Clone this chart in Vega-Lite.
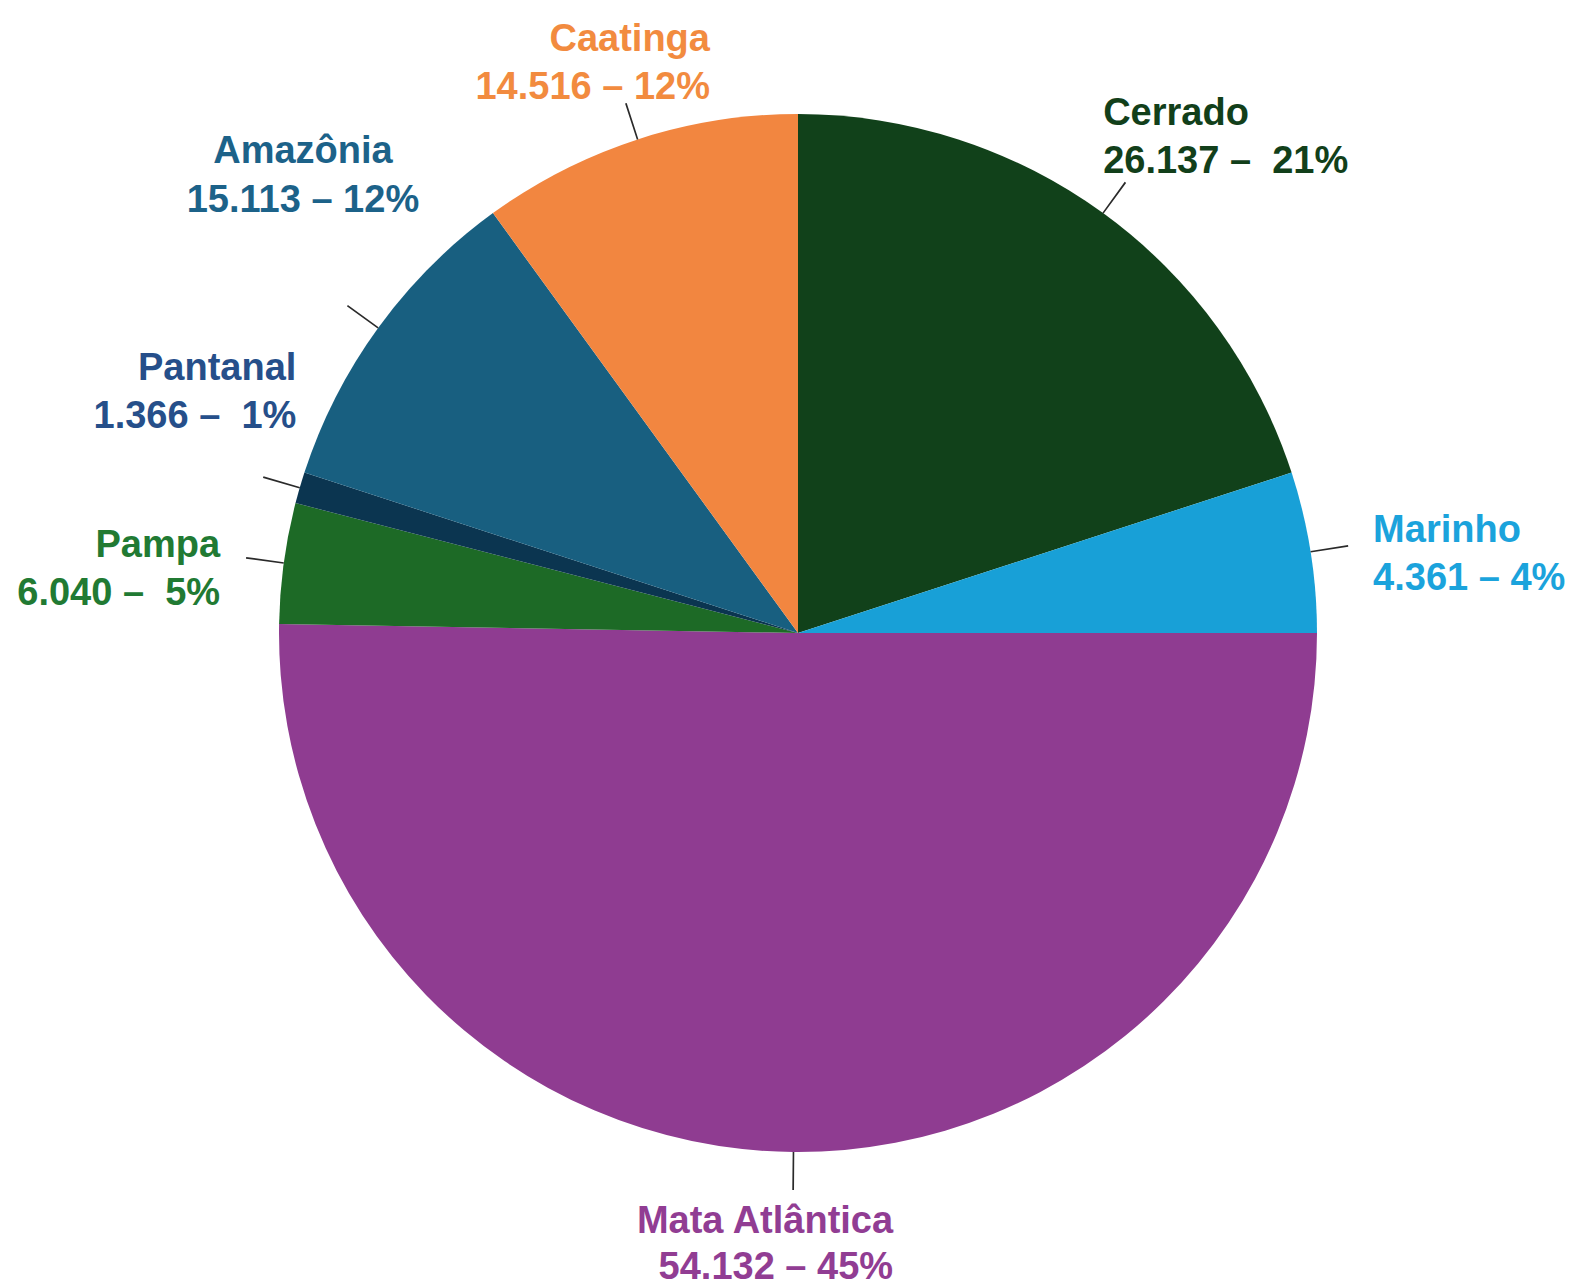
{
  "$schema": "https://vega.github.io/schema/vega-lite/v6.json",
  "width": 1546,
  "height": 1266,
  "autosize": "none",
  "padding": {"left": 25, "top": 0, "right": 0, "bottom": 20},
  "background": "white",
  "config": {"view": {"stroke": null}},
  "data": {
    "values": [
      {"ordem": 1, "bioma": "Cerrado", "valor": 26137, "pct": 21, "fatia": 72, "linhas": ["Cerrado", "\u200026.137 –\u00a0 21%"]},
      {"ordem": 2, "bioma": "Marinho", "valor": 4361, "pct": 4, "fatia": 18, "linhas": ["Marinho", "4.361 – 4%"]},
      {"ordem": 3, "bioma": "Mata Atlântica", "valor": 54132, "pct": 45, "fatia": 181, "linhas": ["Mata Atlântica", "54.132 – 45%"]},
      {"ordem": 4, "bioma": "Pampa", "valor": 6040, "pct": 5, "fatia": 13.5, "linhas": ["Pampa", "6.040 –\u00a0 5%"]},
      {"ordem": 5, "bioma": "Pantanal", "valor": 1366, "pct": 1, "fatia": 3.5, "linhas": ["Pantanal", "1.366 –\u00a0 1%"]},
      {"ordem": 6, "bioma": "Amazônia", "valor": 15113, "pct": 12, "fatia": 36, "linhas": ["Amazônia", "15.113 – 12%"]},
      {"ordem": 7, "bioma": "Caatinga", "valor": 14516, "pct": 12, "fatia": 36, "linhas": ["Caatinga", "14.516 – 12%"]}
    ]
  },
  "transform": [
    {"stack": "fatia", "groupby": [], "sort": [{"field": "ordem", "order": "ascending"}], "as": ["t0", "t1"]},
    {"calculate": "(datum.t0 + datum.t1) / 2", "as": "meio"},
    {"calculate": "datum.meio - 0.09", "as": "l0"},
    {"calculate": "datum.meio + 0.09", "as": "l1"}
  ],
  "layer": [
    {
      "mark": {"type": "arc", "outerRadius": 519, "innerRadius": 0},
      "encoding": {
        "theta": {"field": "t0", "type": "quantitative", "scale": {"domain": [0, 360], "range": [0, 6.283185307179586]}},
        "theta2": {"field": "t1"},
        "color": {
          "field": "bioma",
          "type": "nominal",
          "scale": {
            "domain": ["Cerrado", "Marinho", "Mata Atlântica", "Pampa", "Pantanal", "Amazônia", "Caatinga"],
            "range": ["#11411a", "#18a0d7", "#8f3c91", "#1d6a26", "#0b3550", "#185f80", "#f28640"]
          },
          "legend": null
        }
      }
    },
    {
      "mark": {"type": "arc", "innerRadius": 519, "outerRadius": 557, "color": "#2a2a2a"},
      "encoding": {
        "theta": {"field": "l0", "type": "quantitative", "scale": {"domain": [0, 360], "range": [0, 6.283185307179586]}},
        "theta2": {"field": "l1"}
      }
    },
    {
      "transform": [{"filter": "datum.bioma === 'Cerrado'"}],
      "mark": {"type": "text", "radius": 560, "align": "left", "baseline": "alphabetic", "dx": -24, "dy": -55, "font": "Liberation Sans", "fontWeight": "bold", "fontSize": 38, "lineHeight": 48, "color": "#123f1a"},
      "encoding": {"theta": {"field": "meio", "type": "quantitative", "scale": {"domain": [0, 360], "range": [0, 6.283185307179586]}}, "text": {"field": "linhas"}}
    },
    {
      "transform": [{"filter": "datum.bioma === 'Marinho'"}],
      "mark": {"type": "text", "radius": 560, "align": "left", "baseline": "alphabetic", "dx": 22, "dy": -3, "font": "Liberation Sans", "fontWeight": "bold", "fontSize": 38, "lineHeight": 48, "color": "#1ba3dc"},
      "encoding": {"theta": {"field": "meio", "type": "quantitative", "scale": {"domain": [0, 360], "range": [0, 6.283185307179586]}}, "text": {"field": "linhas"}}
    },
    {
      "transform": [{"filter": "datum.bioma === 'Mata Atlântica'"}],
      "mark": {"type": "text", "radius": 560, "align": "right", "baseline": "alphabetic", "dx": 100, "dy": 40, "font": "Liberation Sans", "fontWeight": "bold", "fontSize": 38, "lineHeight": 46, "color": "#913d93"},
      "encoding": {"theta": {"field": "meio", "type": "quantitative", "scale": {"domain": [0, 360], "range": [0, 6.283185307179586]}}, "text": {"field": "linhas"}}
    },
    {
      "transform": [{"filter": "datum.bioma === 'Pampa'"}],
      "mark": {"type": "text", "radius": 560, "align": "right", "baseline": "alphabetic", "dx": -23, "dy": 0, "font": "Liberation Sans", "fontWeight": "bold", "fontSize": 38, "lineHeight": 48, "color": "#217a33"},
      "encoding": {"theta": {"field": "meio", "type": "quantitative", "scale": {"domain": [0, 360], "range": [0, 6.283185307179586]}}, "text": {"field": "linhas"}}
    },
    {
      "transform": [{"filter": "datum.bioma === 'Pantanal'"}],
      "mark": {"type": "text", "radius": 560, "align": "right", "baseline": "alphabetic", "dx": 36, "dy": -96, "font": "Liberation Sans", "fontWeight": "bold", "fontSize": 38, "lineHeight": 48, "color": "#264f8a"},
      "encoding": {"theta": {"field": "meio", "type": "quantitative", "scale": {"domain": [0, 360], "range": [0, 6.283185307179586]}}, "text": {"field": "linhas"}}
    },
    {
      "transform": [{"filter": "datum.bioma === 'Amazônia'"}],
      "mark": {"type": "text", "radius": 560, "align": "center", "baseline": "alphabetic", "dx": -42, "dy": -141, "font": "Liberation Sans", "fontWeight": "bold", "fontSize": 38, "lineHeight": 49, "color": "#1c6289"},
      "encoding": {"theta": {"field": "meio", "type": "quantitative", "scale": {"domain": [0, 360], "range": [0, 6.283185307179586]}}, "text": {"field": "linhas"}}
    },
    {
      "transform": [{"filter": "datum.bioma === 'Caatinga'"}],
      "mark": {"type": "text", "radius": 560, "align": "right", "baseline": "alphabetic", "dx": 85, "dy": -49, "font": "Liberation Sans", "fontWeight": "bold", "fontSize": 38, "lineHeight": 48, "color": "#f28b3f"},
      "encoding": {"theta": {"field": "meio", "type": "quantitative", "scale": {"domain": [0, 360], "range": [0, 6.283185307179586]}}, "text": {"field": "linhas"}}
    }
  ]
}
